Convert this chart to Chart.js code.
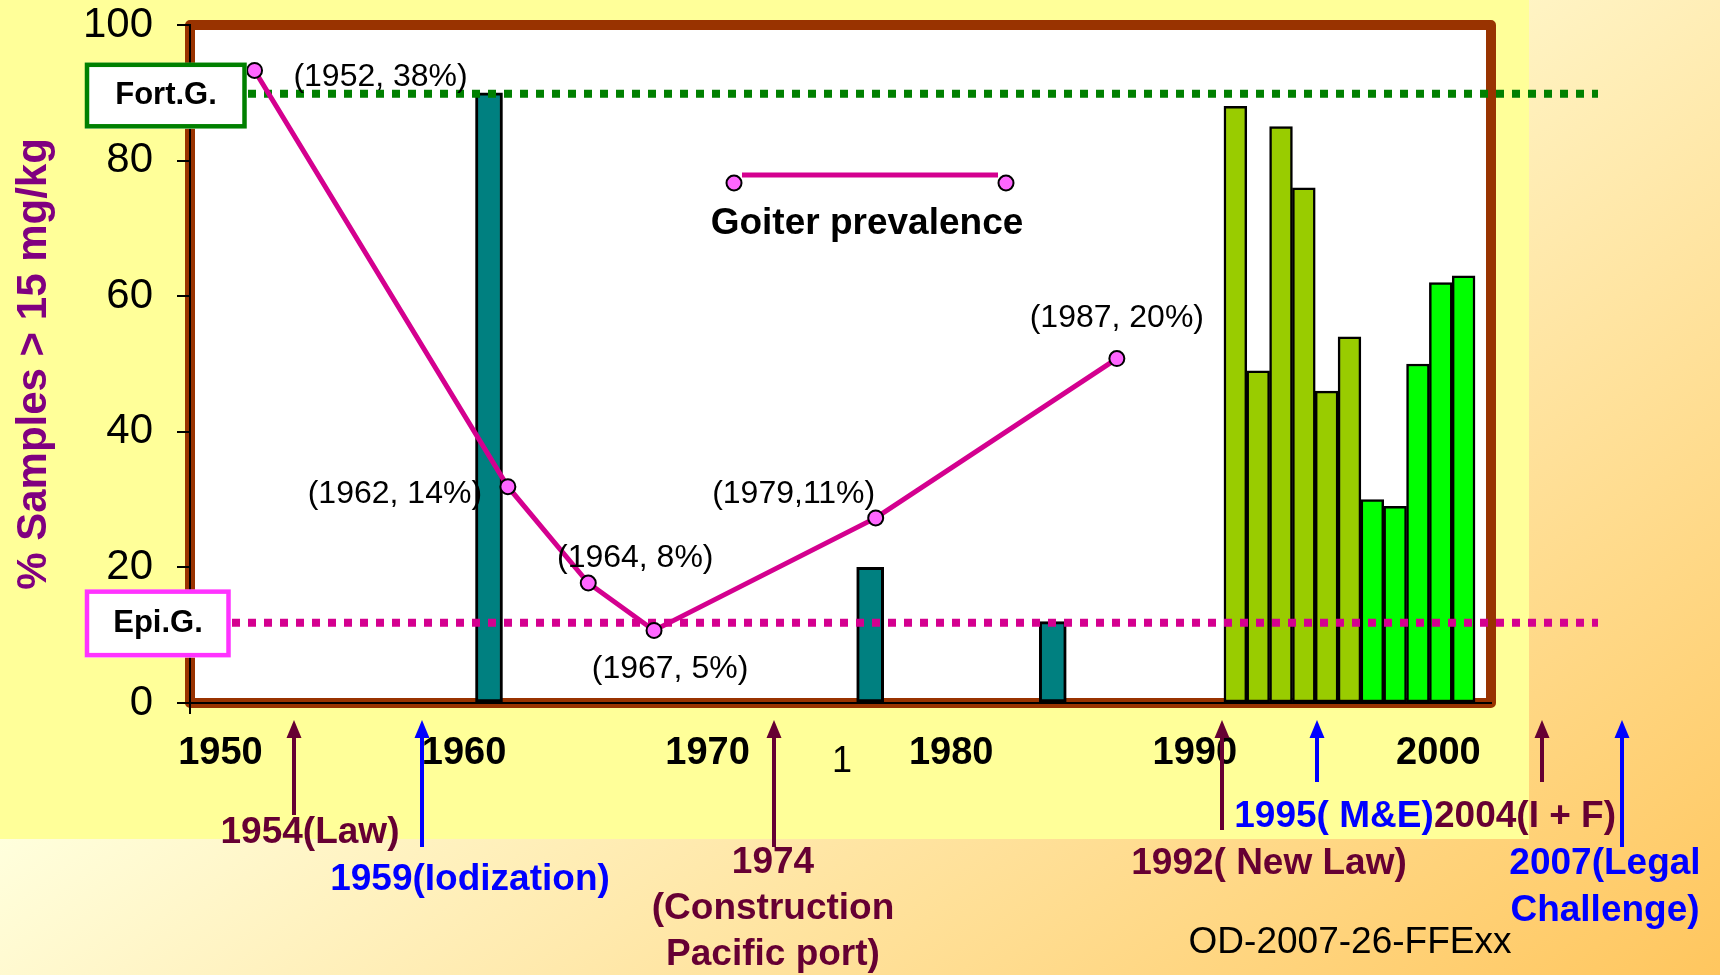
<!DOCTYPE html>
<html>
<head>
<meta charset="utf-8">
<title>Goiter prevalence and salt iodization</title>
<script src="https://cdn.jsdelivr.net/npm/chart.js@4.4.1/dist/chart.umd.min.js"></script>
<style>
  html, body { margin: 0; padding: 0; background: #ffff99; }
  #wrap { width: 1720px; height: 975px; }
</style>
</head>
<body>
<div id="wrap"><canvas id="chart" width="1720" height="975"></canvas></div>
<script>
// % of salt samples > 15 mg/kg
var tealYears = [1959.3, 1976, 1984];
var tealValues = [90, 20, 12];
var oliveYears = [1992, 1993, 1994, 1995, 1996, 1997];
var oliveValues = [88, 49, 85, 76, 46, 54];
var greenYears = [1998, 1999, 2000, 2001, 2002];
var greenValues = [30, 29, 50, 62, 63];

// goiter prevalence, points as drawn on the slide (year axis, left axis units)
var goiterLabels = ['(1952, 38%)', '(1962, 14%)', '(1964, 8%)', '(1967, 5%)', '(1979,11%)', '(1987, 20%)'];
var goiterPlotX = [1951.4, 1961.8, 1965.1, 1967.8, 1976.9, 1986.8];
var goiterPlotY = [93.3, 31.9, 17.7, 10.7, 27.3, 50.8];

var fortLevel = 90;   // Fort.G.
var epiLevel = 12;    // Epi.G.

var yTicks = [0, 20, 40, 60, 80, 100];
var xTicks = [1950, 1960, 1970, 1980, 1990, 2000];

var eventYears = [1954, 1959, 1974, 1992, 1995, 2004, 2007];
var eventText = [
  ['1954(Law)'],
  ['1959(Iodization)'],
  ['1974', '(Construction', 'Pacific port)'],
  ['1992( New Law)'],
  ['1995( M&E)'],
  ['2004(I + F)'],
  ['2007(Legal', 'Challenge)']
];

var FONT = "'Liberation Sans', Arial, Helvetica, sans-serif";
var MAROON = '#660033', BLUE = '#0000ff', MAGENTA = '#d4008f';

function pairs(xs, ys) {
  return xs.map(function (x, i) { return { x: x, y: ys[i] }; });
}

function dot(ctx, x, y) {
  ctx.beginPath();
  ctx.arc(x, y, 7.5, 0, Math.PI * 2);
  ctx.fillStyle = '#ff66ff';
  ctx.fill();
  ctx.lineWidth = 2;
  ctx.strokeStyle = '#000';
  ctx.stroke();
}

function noPad(s) {
  s.paddingTop = 0;
  s.paddingBottom = 0;
  s.paddingLeft = 0;
  s.paddingRight = 0;
}

var decor = {
  id: 'decor',
  beforeDraw: function (chart) {
    var ctx = chart.ctx, a = chart.chartArea;
    ctx.save();
    var g = ctx.createLinearGradient(398, 546, 1061, 1456);
    g.addColorStop(0, '#ffffdd');
    g.addColorStop(1, '#ffc65e');
    ctx.fillStyle = g;
    ctx.fillRect(0, 0, chart.width, chart.height);
    ctx.fillStyle = '#ffff99';
    ctx.fillRect(0, 0, 1529, 839);
    ctx.fillStyle = '#fff';
    ctx.fillRect(a.left, a.top, a.right - a.left, a.bottom - a.top);
    ctx.strokeStyle = '#993300';
    ctx.lineWidth = 10;
    ctx.lineJoin = 'round';
    ctx.strokeRect(a.left, a.top, a.right - a.left, a.bottom - a.top);
    ctx.restore();
  },
  beforeDatasetDraw: function (chart, args) {
    if (args.meta.type !== 'line') return;
    var ctx = chart.ctx, y = chart.scales.y;
    ctx.save();
    ctx.setLineDash([8, 8]);
    ctx.lineWidth = 8;
    [[fortLevel, '#008000'], [epiLevel, MAGENTA]].forEach(function (r) {
      var py = y.getPixelForValue(r[0]) + 1;
      ctx.strokeStyle = r[1];
      ctx.beginPath();
      ctx.moveTo(200, py);
      ctx.lineTo(1598, py);
      ctx.stroke();
    });
    ctx.restore();
  },
  afterDatasetsDraw: function (chart) {
    var ctx = chart.ctx, y = chart.scales.y, a = chart.chartArea;
    ctx.save();

    // origin tick
    ctx.strokeStyle = '#000';
    ctx.lineWidth = 2;
    ctx.beginPath();
    ctx.moveTo(a.left, a.bottom);
    ctx.lineTo(a.left, a.bottom + 11);
    ctx.stroke();

    // point labels
    var offs = [[126, 7], [-113, 7], [47, -25], [16, 39], [-82, -24], [0, -40]];
    var pts = chart.getDatasetMeta(0).data;
    ctx.font = '32px ' + FONT;
    ctx.fillStyle = '#000';
    ctx.textAlign = 'center';
    ctx.textBaseline = 'middle';
    pts.forEach(function (p, i) {
      ctx.fillText(goiterLabels[i], p.x + offs[i][0], p.y + offs[i][1]);
    });

    // legend
    ctx.strokeStyle = MAGENTA;
    ctx.lineWidth = 5;
    ctx.beginPath();
    ctx.moveTo(742, 175);
    ctx.lineTo(998, 175);
    ctx.stroke();
    dot(ctx, 734, 183);
    dot(ctx, 1006, 183);
    ctx.fillStyle = '#000';
    ctx.font = 'bold 37px ' + FONT;
    ctx.fillText('Goiter prevalence', 867, 224);

    // guide tags
    var tags = [
      { v: fortLevel, text: 'Fort.G.', color: '#008000', w: 162, top: -31, h: 66, tx: 166, ty: 2 },
      { v: epiLevel, text: 'Epi.G.', color: '#ff33ff', w: 146, top: -33, h: 68, tx: 158, ty: 1 }
    ];
    ctx.font = 'bold 31px ' + FONT;
    tags.forEach(function (t) {
      var py = y.getPixelForValue(t.v) + 1;
      ctx.fillStyle = '#fff';
      ctx.fillRect(85, py + t.top, t.w, t.h);
      ctx.strokeStyle = t.color;
      ctx.lineWidth = 4.5;
      ctx.strokeRect(87, py + t.top + 2, t.w - 4.5, t.h - 4.5);
      ctx.fillStyle = '#000';
      ctx.fillText(t.text, t.tx, py + t.ty);
    });
    ctx.restore();
  },
  afterDraw: function (chart) {
    var ctx = chart.ctx, xl = chart.scales.xl;
    var lay = [
      { dx: -24, end: 815, color: MAROON, tx: 16, ty: [833] },
      { dx: -18, end: 847, color: BLUE, tx: 48, ty: [880] },
      { dx: -31, end: 847, color: MAROON, tx: -1, ty: [863, 909, 955] },
      { dx: -22, end: 830, color: MAROON, tx: 47, ty: [864] },
      { dx: 0, end: 782, color: BLUE, tx: 17, ty: [817] },
      { dx: 6, end: 782, color: MAROON, tx: -17, ty: [817] },
      { dx: 13, end: 847, color: BLUE, tx: -17, ty: [864, 911] }
    ];
    ctx.save();
    ctx.textAlign = 'center';
    ctx.textBaseline = 'middle';
    ctx.font = 'bold 37px ' + FONT;
    eventYears.forEach(function (yr, i) {
      var l = lay[i];
      var x = Math.round(xl.getPixelForValue(yr) + l.dx);
      ctx.strokeStyle = l.color;
      ctx.fillStyle = l.color;
      ctx.lineWidth = 4;
      ctx.beginPath();
      ctx.moveTo(x, 735);
      ctx.lineTo(x, l.end);
      ctx.stroke();
      ctx.beginPath();
      ctx.moveTo(x, 720);
      ctx.lineTo(x - 7.5, 738);
      ctx.lineTo(x + 7.5, 738);
      ctx.closePath();
      ctx.fill();
      eventText[i].forEach(function (s, j) {
        ctx.fillText(s, x + l.tx, l.ty[j]);
      });
    });

    ctx.fillStyle = '#000';
    ctx.font = '36px ' + FONT;
    ctx.fillText('1', 842, 762);
    ctx.font = '37px ' + FONT;
    ctx.fillText('OD-2007-26-FFExx', 1350, 943);
    ctx.restore();
  }
};

new Chart(document.getElementById('chart'), {
  type: 'bar',
  data: {
    datasets: [
      {
        type: 'line',
        label: 'Goiter prevalence',
        xAxisID: 'xl',
        yAxisID: 'y',
        order: 0,
        data: pairs(goiterPlotX, goiterPlotY),
        borderColor: MAGENTA,
        borderWidth: 5,
        tension: 0,
        pointRadius: 7.5,
        pointBackgroundColor: '#ff66ff',
        pointBorderColor: '#000',
        pointBorderWidth: 2
      },
      {
        type: 'bar',
        xAxisID: 'x',
        yAxisID: 'y',
        order: 1,
        grouped: false,
        barThickness: 27,
        data: pairs(tealYears, tealValues),
        backgroundColor: '#008080',
        borderColor: '#000',
        borderWidth: 3,
        borderSkipped: false
      },
      {
        type: 'bar',
        xAxisID: 'x',
        yAxisID: 'y',
        order: 1,
        grouped: false,
        barPercentage: 1,
        categoryPercentage: 1,
        data: pairs(oliveYears, oliveValues),
        backgroundColor: '#99cc00',
        borderColor: '#000',
        borderWidth: 2.5,
        borderSkipped: false
      },
      {
        type: 'bar',
        xAxisID: 'x',
        yAxisID: 'y',
        order: 1,
        grouped: false,
        barPercentage: 1,
        categoryPercentage: 1,
        data: pairs(greenYears, greenValues),
        backgroundColor: '#00ff00',
        borderColor: '#000',
        borderWidth: 2.5,
        borderSkipped: false
      }
    ]
  },
  options: {
    responsive: false,
    devicePixelRatio: 1,
    animation: false,
    layout: { padding: { top: 25, right: 229, bottom: 0, left: 0 } },
    plugins: {
      legend: { display: false },
      tooltip: { enabled: false }
    },
    scales: {
      x: {
        type: 'linear',
        display: false,
        offset: false,
        min: 1946.2,
        max: 2003.2
      },
      xl: {
        type: 'linear',
        axis: 'x',
        position: 'bottom',
        offset: false,
        min: 1948.75,
        max: 2002.16,
        afterBuildTicks: function (s) {
          s.ticks = xTicks.map(function (v) { return { value: v }; });
        },
        afterFit: function (s) { s.height = 272; noPad(s); },
        grid: { display: false, drawTicks: false },
        border: { display: true, color: '#000', width: 2 },
        ticks: {
          padding: 28,
          maxRotation: 0,
          autoSkip: false,
          color: '#000',
          font: { family: FONT, size: 38, weight: 'bold', lineHeight: 1.2 },
          callback: function (v) { return String(v); }
        }
      },
      y: {
        type: 'linear',
        position: 'left',
        min: 0,
        max: 100,
        afterBuildTicks: function (s) {
          s.ticks = yTicks.map(function (v) { return { value: v }; });
        },
        afterFit: function (s) { s.width = 190; noPad(s); },
        grid: { display: true, drawOnChartArea: false, drawTicks: true, tickLength: 13, color: '#000', lineWidth: 2 },
        border: { display: true, color: '#000', width: 2 },
        ticks: {
          padding: 24,
          color: '#000',
          font: { family: FONT, size: 42, lineHeight: 1.2 },
          callback: function (v) { return String(v); }
        },
        title: {
          display: true,
          text: '% Samples > 15 mg/kg',
          color: '#800080',
          padding: { top: 9, bottom: 0 },
          font: { family: FONT, size: 42, weight: 'bold', lineHeight: 1.2 }
        }
      }
    }
  },
  plugins: [decor]
});
</script>
</body>
</html>
